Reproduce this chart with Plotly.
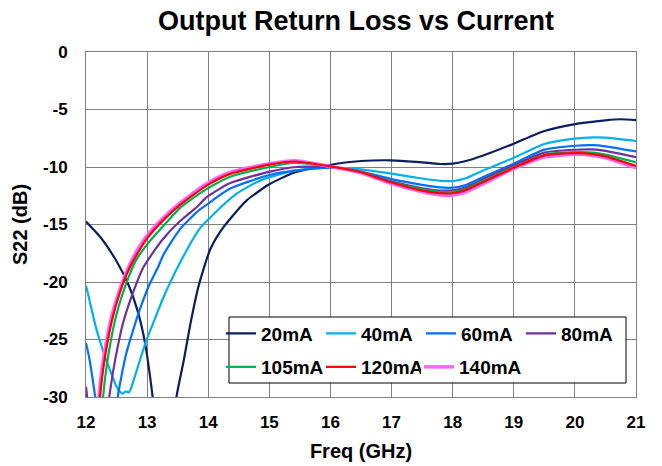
import plotly.graph_objects as go

# ---- data (Freq GHz, S22 dB) ----
f_20 = [12.0, 12.25, 12.5, 12.7, 12.85, 12.97, 13.04, 13.09, 13.2, 13.35, 13.48, 13.6, 13.71, 13.84, 14.03, 14.2, 14.36, 14.63, 15.0, 15.4, 15.8, 16.1, 16.5, 17.0, 17.4, 17.8, 18.0, 18.2, 18.5, 19.0, 19.5, 20.0, 20.5, 20.75, 21.0]
s_20 = [-14.75, -16.2, -18.2, -20.3, -22.6, -25.4, -27.9, -30.0, -36.0, -36.0, -30.0, -26.8, -23.6, -20.4, -17.2, -15.6, -14.5, -12.9, -11.5, -10.5, -10.0, -9.72, -9.48, -9.42, -9.55, -9.74, -9.71, -9.5, -9.0, -7.97, -6.87, -6.27, -5.94, -5.85, -5.92]

f_40 = [12.0, 12.08, 12.16, 12.25, 12.33, 12.41, 12.49, 12.55, 12.6, 12.65, 12.7, 12.74, 12.8, 12.87, 12.98, 13.09, 13.27, 13.54, 13.87, 14.05, 14.47, 14.88, 15.43, 16.0, 16.5, 17.0, 17.5, 17.8, 18.0, 18.2, 18.5, 19.0, 19.5, 20.0, 20.3, 20.5, 21.0]
s_40 = [-20.3, -22.1, -23.9, -25.5, -26.8, -27.9, -29.0, -29.5, -29.7, -29.5, -29.6, -29.2, -28.2, -27.0, -25.2, -23.7, -21.3, -18.3, -15.3, -14.3, -12.3, -11.1, -10.3, -10.05, -10.2, -10.58, -11.0, -11.2, -11.22, -11.0, -10.3, -9.2, -8.0, -7.54, -7.43, -7.45, -7.74]

f_60 = [12.0, 12.06, 12.11, 12.15, 12.35, 12.52, 12.58, 12.66, 12.77, 12.9, 13.04, 13.18, 13.27, 13.54, 13.84, 13.97, 14.35, 15.0, 15.45, 16.0, 16.5, 17.0, 17.5, 17.8, 18.0, 18.2, 18.5, 19.0, 19.5, 20.0, 20.3, 20.5, 21.0]
s_60 = [-25.3, -26.8, -28.5, -30.0, -38.0, -30.0, -28.2, -26.2, -24.2, -22.1, -20.2, -18.7, -17.6, -15.4, -13.8, -13.3, -11.9, -10.7, -10.3, -10.05, -10.4, -11.05, -11.55, -11.78, -11.8, -11.6, -10.87, -9.71, -8.49, -8.15, -8.1, -8.2, -8.65]

f_80 = [12.0, 12.05, 12.2, 12.38, 12.44, 12.52, 12.6, 12.71, 12.82, 12.93, 13.0, 13.27, 13.54, 13.81, 13.98, 14.36, 15.01, 15.45, 16.0, 16.5, 17.0, 17.5, 17.8, 18.0, 18.2, 18.5, 19.0, 19.5, 20.0, 20.3, 20.5, 21.0]
s_80 = [-29.1, -31.5, -37.0, -30.0, -27.9, -25.6, -23.7, -21.8, -20.2, -18.8, -18.2, -16.2, -14.7, -13.5, -12.6, -11.4, -10.4, -10.0, -10.02, -10.45, -11.25, -11.85, -12.05, -12.03, -11.8, -11.07, -9.86, -8.75, -8.5, -8.47, -8.6, -9.15]

f_105 = [12.0, 12.15, 12.28, 12.33, 12.41, 12.49, 12.6, 12.71, 12.82, 13.05, 13.32, 13.54, 13.7, 13.98, 14.36, 15.0, 15.4, 16.0, 16.5, 17.0, 17.5, 17.8, 18.0, 18.2, 18.5, 19.0, 19.5, 20.0, 20.3, 20.5, 21.0]
s_105 = [-36.0, -40.0, -30.0, -27.6, -25.0, -23.0, -21.0, -19.4, -18.1, -16.4, -14.8, -13.55, -12.9, -11.9, -10.85, -10.0, -9.65, -9.97, -10.45, -11.3, -11.95, -12.17, -12.17, -11.95, -11.2, -10.0, -8.93, -8.7, -8.75, -8.93, -9.6]

f_120 = [12.0, 12.12, 12.23, 12.28, 12.36, 12.44, 12.55, 12.66, 12.78, 13.0, 13.27, 13.54, 13.98, 14.36, 15.0, 15.4, 16.0, 16.5, 17.0, 17.5, 17.8, 18.0, 18.2, 18.5, 19.0, 19.5, 20.0, 20.3, 20.5, 21.0]
s_120 = [-37.0, -40.0, -30.0, -27.6, -25.0, -23.0, -21.0, -19.4, -18.1, -16.2, -14.6, -13.3, -11.6, -10.6, -9.8, -9.52, -9.95, -10.45, -11.35, -12.05, -12.28, -12.28, -12.05, -11.3, -10.07, -8.99, -8.8, -8.88, -9.07, -9.9]

f_140 = [12.0, 12.1, 12.21, 12.26, 12.34, 12.42, 12.53, 12.64, 12.76, 12.98, 13.25, 13.52, 13.96, 14.34, 15.0, 15.4, 16.0, 16.5, 17.0, 17.5, 17.8, 18.0, 18.2, 18.5, 19.0, 19.5, 20.0, 20.3, 20.5, 21.0]
s_140 = [-38.0, -41.0, -30.0, -27.6, -25.0, -23.0, -21.0, -19.4, -18.0, -16.1, -14.5, -13.2, -11.5, -10.5, -9.72, -9.45, -9.95, -10.5, -11.45, -12.15, -12.43, -12.43, -12.2, -11.45, -10.14, -9.13, -8.9, -9.0, -9.2, -10.08]

names = ["20mA", "40mA", "60mA", "80mA", "105mA", "120mA", "140mA"]
colors = ["#0B1F5E", "#00B0F0", "#0070FF", "#7030A0", "#00B050", "#FF0000", "#FF66FF"]
series = [(f_20, s_20), (f_40, s_40), (f_60, s_60), (f_80, s_80), (f_105, s_105), (f_120, s_120), (f_140, s_140)]
x_ticks = list(range(12, 22))
y_ticks = list(range(-30, 1, 5))

FONT = "Liberation Sans, Arial, sans-serif"
W, H = 662, 466
ML, MR, MT, MB = 86, 26, 52, 69
PW, PH = W - ML - MR, H - MT - MB


def px_x(px):
    return (px - ML) / PW


def px_y(py):
    return (MT + PH - py) / PH


# legend placement: row 1 -> legend, row 2 (first two) -> legend2, last -> legend3
legend_of = ["legend", "legend", "legend", "legend", "legend2", "legend2", "legend3"]

fig = go.Figure()
# draw order: pink under red (halo look)
draw_order = [0, 1, 2, 3, 4, 6, 5]
for i in draw_order:
    fx, sy = series[i]
    fig.add_trace(go.Scatter(
        x=fx, y=sy, mode="lines", name=names[i],
        line=dict(color=colors[i], width=3.5 if i == 6 else 2.2, shape="spline", smoothing=0.6),
        legend=legend_of[i],
        legendrank=i + 1,
    ))

leg_common = dict(orientation="h", xanchor="left", yanchor="middle",
                  bgcolor="rgba(0,0,0,0)", borderwidth=0,
                  font=dict(size=19, family=FONT, color="black", weight="bold"),
                  entrywidthmode="pixels", itemwidth=30, traceorder="normal")

fig.update_layout(
    width=W, height=H,
    margin=dict(l=ML, r=MR, t=MT, b=MB, autoexpand=False),
    paper_bgcolor="white", plot_bgcolor="white",
    font=dict(family=FONT, color="black"),
    title=dict(text="<b>Output Return Loss vs Current</b>", x=356 / W, xref="container", xanchor="center",
               y=1 - 21 / H, yref="container", yanchor="middle",
               font=dict(size=27, family=FONT, color="black")),
    showlegend=True,
    legend=dict(x=px_x(221), y=px_y(333.5), entrywidth=55, **leg_common),
    legend2=dict(x=px_x(221), y=px_y(367), entrywidth=55, **leg_common),
    legend3=dict(x=px_x(221 + 2 * 99), y=px_y(367), entrywidth=0, **leg_common),
    shapes=[dict(type="rect", xref="paper", yref="paper",
                 x0=px_x(229), x1=px_x(626), y0=px_y(383), y1=px_y(317),
                 fillcolor="white", line=dict(color="black", width=1), layer="above")],
)
fig.update_xaxes(range=[12, 21], tickvals=x_ticks, ticktext=[str(v) for v in x_ticks],
                 showgrid=True, gridcolor="#808080", gridwidth=1, automargin=False,
                 showline=True, linecolor="#808080", linewidth=1, mirror=True,
                 zeroline=False, ticks="", ticklabelstandoff=10,
                 tickfont=dict(size=17, family=FONT, color="black", weight="bold"),
                 title=dict(text="<b>Freq (GHz)</b>", font=dict(size=20, family=FONT, color="black"), standoff=12))
fig.update_yaxes(range=[-30, 0], tickvals=y_ticks, ticktext=[str(v) for v in y_ticks],
                 showgrid=True, gridcolor="#808080", gridwidth=1, automargin=False,
                 showline=True, linecolor="#808080", linewidth=1, mirror=True,
                 zeroline=False, ticks="", ticklabelstandoff=14,
                 tickfont=dict(size=17, family=FONT, color="black", weight="bold"),
                 title=dict(text="<b>S22 (dB)</b>", font=dict(size=20, family=FONT, color="black"), standoff=10))

fig.write_html("out.html", config={"displayModeBar": False},
               post_script="document.body.style.margin='0';")
